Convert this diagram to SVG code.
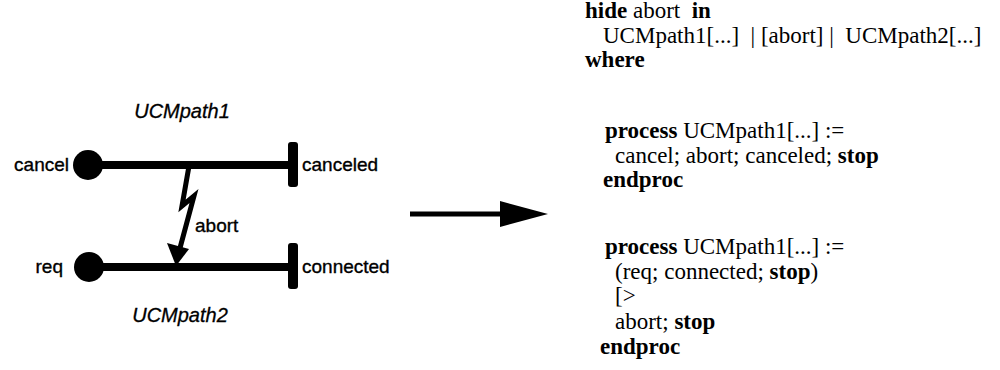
<svg xmlns="http://www.w3.org/2000/svg" width="1000" height="370" viewBox="0 0 1000 370">
  <style>
    .lbl { font-family: "Liberation Sans", Arial, sans-serif; font-size: 19px; fill: #000; stroke: #000; stroke-width: 0.35; }
    .title { font-family: "Liberation Sans", Arial, sans-serif; font-size: 20px; font-style: italic; fill: #000; stroke: #000; stroke-width: 0.3; }
    .path { stroke: #000; stroke-width: 8; fill: none; }
    .code { font-family: "Liberation Serif", "Times New Roman", serif; font-size: 23px; fill: #000; }
    .kw { font-weight: bold; }
  </style>
  <rect width="1000" height="370" fill="#fff"/>

  <!-- upper path: cancel -> canceled -->
  <g id="UCMpath1">
    <text class="title" x="182" y="118" text-anchor="middle">UCMpath1</text>
    <line class="path" x1="88" y1="165" x2="292" y2="165"/>
    <circle cx="88" cy="165" r="15" fill="#000"/>
    <rect x="288" y="142" width="10" height="45" rx="3" fill="#000"/>
    <text class="lbl" x="69" y="171" text-anchor="end">cancel</text>
    <text class="lbl" x="302" y="171">canceled</text>
  </g>

  <!-- lower path: req -> connected -->
  <g id="UCMpath2">
    <line class="path" x1="89" y1="267" x2="292" y2="267"/>
    <circle cx="89" cy="267" r="15" fill="#000"/>
    <rect x="288" y="243" width="10" height="46" rx="3" fill="#000"/>
    <text class="lbl" x="63" y="273" text-anchor="end">req</text>
    <text class="lbl" x="302" y="273">connected</text>
    <text class="title" x="180" y="322" text-anchor="middle">UCMpath2</text>
  </g>

  <g id="connectors">
    <!-- abort interaction (lightning bolt) -->
    <polyline points="189,166 182,206 194,196 180,248" fill="none" stroke="#000" stroke-width="5" stroke-linejoin="miter"/>
    <polygon points="167,243 189,249 176,266" fill="#000"/>
    <text class="lbl" x="195" y="232">abort</text>
    <!-- transformation arrow -->
    <line x1="410" y1="214" x2="503" y2="214" stroke="#000" stroke-width="5"/>
    <polygon points="500,201 548,214 500,227" fill="#000"/>
  </g>

  <!-- LOTOS specification -->
  <g id="spec" class="code">
    <text x="585" y="18" xml:space="preserve"><tspan class="kw">hide</tspan> abort  <tspan class="kw">in</tspan></text>
    <text x="603" y="43" xml:space="preserve">UCMpath1[...]  | [abort] |  UCMpath2[...]</text>
    <text x="585" y="67" class="kw">where</text>
    <text x="605" y="138"><tspan class="kw">process</tspan> UCMpath1[...] :=</text>
    <text x="615" y="163">cancel; abort; canceled; <tspan class="kw">stop</tspan></text>
    <text x="603" y="187" class="kw">endproc</text>
    <text x="605" y="254"><tspan class="kw">process</tspan> UCMpath1[...] :=</text>
    <text x="615" y="279">(req; connected; <tspan class="kw">stop</tspan>)</text>
    <text x="615" y="303">[&gt;</text>
    <text x="615" y="329">abort; <tspan class="kw">stop</tspan></text>
    <text x="600" y="354" class="kw">endproc</text>
  </g>
</svg>
